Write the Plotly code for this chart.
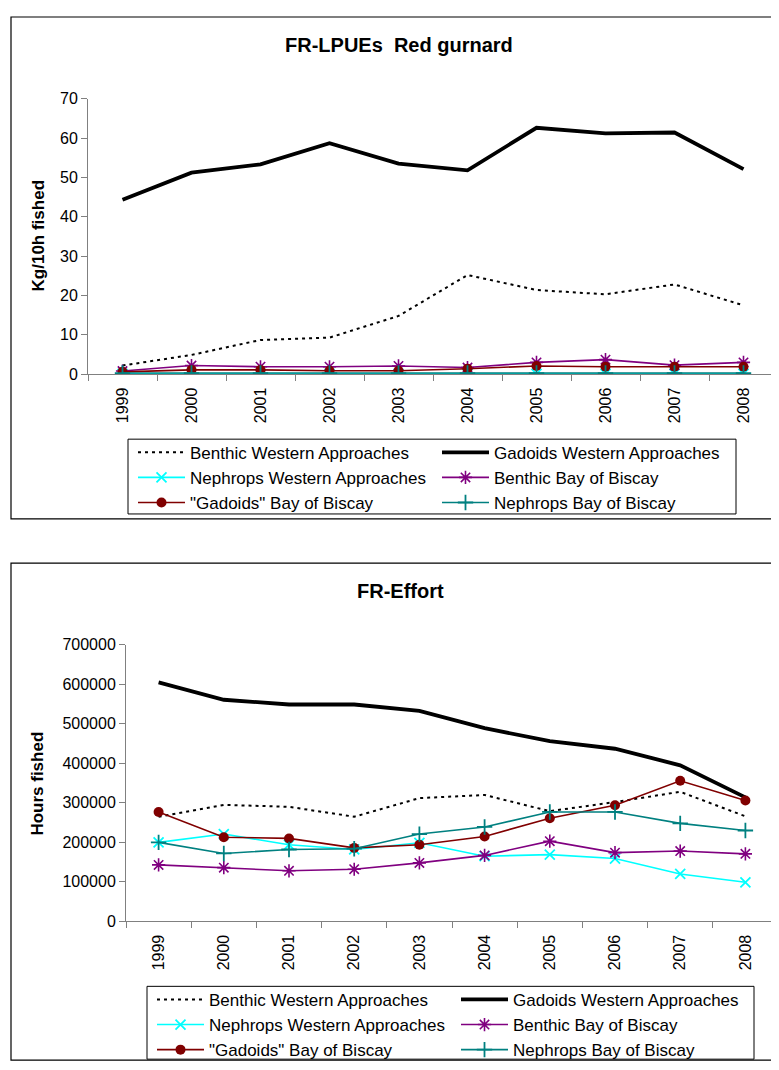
import plotly.graph_objects as go

# ---------------- data ----------------
years = ["1999", "2000", "2001", "2002", "2003", "2004", "2005", "2006", "2007", "2008"]

series_names = [
    "Benthic Western Approaches",
    "Gadoids Western Approaches",
    "Nephrops Western Approaches",
    "Benthic Bay of Biscay",
    "\"Gadoids\" Bay of Biscay",
    "Nephrops Bay of Biscay",
]

# LPUE (Kg/10h fished)
lpue_benthic_wa = [2.2, 4.9, 8.7, 9.3, 14.8, 25.2, 21.4, 20.3, 22.8, 17.5]
lpue_gadoids_wa = [44.3, 51.2, 53.3, 58.7, 53.5, 51.8, 62.6, 61.2, 61.4, 52.1]
lpue_nephrops_wa = [0.1, 0.1, 0.1, 0.1, 0.1, 0.1, 0.1, 0.1, 0.1, 0.1]
lpue_benthic_bob = [0.8, 2.2, 1.9, 1.9, 2.1, 1.7, 3.0, 3.7, 2.3, 3.0]
lpue_gadoids_bob = [0.6, 1.1, 1.1, 0.9, 0.9, 1.4, 2.1, 1.9, 1.9, 1.9]
lpue_nephrops_bob = [0.3, 0.3, 0.3, 0.3, 0.3, 0.3, 0.3, 0.3, 0.3, 0.3]

# Effort (hours fished)
eff_benthic_wa = [265000, 295000, 290000, 265000, 312000, 320000, 279000, 302000, 328000, 266000]
eff_gadoids_wa = [605000, 561000, 549000, 549000, 533000, 489000, 456000, 437000, 395000, 314000]
eff_nephrops_wa = [200000, 221000, 194000, 182000, 199000, 165000, 169000, 159000, 120000, 99000]
eff_benthic_bob = [143000, 136000, 128000, 132000, 148000, 167000, 203000, 174000, 178000, 171000]
eff_gadoids_bob = [277000, 213000, 210000, 186000, 194000, 215000, 261000, 294000, 356000, 306000]
eff_nephrops_bob = [200000, 172000, 182000, 184000, 221000, 239000, 277000, 277000, 248000, 230000]

lpue_series = [lpue_benthic_wa, lpue_gadoids_wa, lpue_nephrops_wa,
               lpue_benthic_bob, lpue_gadoids_bob, lpue_nephrops_bob]
eff_series = [eff_benthic_wa, eff_gadoids_wa, eff_nephrops_wa,
              eff_benthic_bob, eff_gadoids_bob, eff_nephrops_bob]

# ---------------- styles ----------------
styles = [
    dict(mode="lines", line=dict(color="black", width=2, dash="3px,4px")),
    dict(mode="lines", line=dict(color="black", width=3.8)),
    dict(mode="lines+markers", line=dict(color="#00FFFF", width=1.6),
         marker=dict(symbol="x-thin", size=10, color="#00FFFF",
                     line=dict(color="#00FFFF", width=1.8))),
    dict(mode="lines+markers", line=dict(color="#800080", width=1.6),
         marker=dict(symbol="asterisk", size=11, color="#800080",
                     line=dict(color="#800080", width=1.6))),
    dict(mode="lines+markers", line=dict(color="#800000", width=1.6),
         marker=dict(symbol="circle", size=10, color="#800000")),
    dict(mode="lines+markers", line=dict(color="#008080", width=1.6),
         marker=dict(symbol="cross-thin", size=11, color="#008080",
                     line=dict(color="#008080", width=1.8))),
]

W, H = 779, 1070
OFF = 8  # page body margin
FONT = "Liberation Sans, Arial, sans-serif"


def px_x(p):
    return (p - OFF) / W


def px_y(p):
    return 1 - (p - OFF) / H


fig = go.Figure()

for name, vals, st in zip(series_names, lpue_series, styles):
    fig.add_trace(go.Scatter(x=years, y=vals, name=name, xaxis="x", yaxis="y",
                             legend="legend", **st))
for name, vals, st in zip(series_names, eff_series, styles):
    fig.add_trace(go.Scatter(x=years, y=vals, name=name, xaxis="x2", yaxis="y2",
                             legend="legend2", **st))

axis_common = dict(
    showline=True, linecolor="#808080", linewidth=1,
    ticks="outside", ticklen=6, tickcolor="#808080", tickwidth=1,
    showgrid=False, zeroline=False,
    tickfont=dict(family=FONT, size=16, color="black"),
)

xaxis_common = dict(axis_common, type="category", range=[-0.5, 9.5],
                    tickson="boundaries", tickangle=-90, ticklabelstandoff=6)

legend_common = dict(
    orientation="h", bgcolor="rgba(0,0,0,0)", borderwidth=0,
    font=dict(family=FONT, size=17, color="black"),
    itemwidth=47, entrywidth=242, entrywidthmode="pixels",
    xanchor="left", yanchor="top", traceorder="normal",
    itemclick=False, itemdoubleclick=False,
)

fig.update_layout(
    width=W, height=H,
    margin=dict(l=0, r=0, t=0, b=0),
    paper_bgcolor="white", plot_bgcolor="white",
    font=dict(family=FONT, color="black"),
    xaxis=dict(xaxis_common, domain=[px_x(88), px_x(778)], anchor="y"),
    yaxis=dict(axis_common, domain=[px_y(372), px_y(92)], range=[0, 70], dtick=10,
               anchor="x"),
    xaxis2=dict(xaxis_common, domain=[px_x(126), px_x(778)], anchor="y2"),
    yaxis2=dict(axis_common, domain=[px_y(928), px_y(647)], range=[0, 700000],
                dtick=100000, tickformat="d", anchor="x2"),
    legend=dict(legend_common, x=px_x(133), y=px_y(433.5)),
    legend2=dict(legend_common, x=px_x(152), y=px_y(989.5)),
    showlegend=True,
)

# chart frames
for y0, y1 in [(9, 519), (564, 1069)]:
    fig.add_shape(type="rect", xref="paper", yref="paper",
                  x0=px_x(11), x1=px_x(800), y0=px_y(y1), y1=px_y(y0),
                  line=dict(color="black", width=1.2), fillcolor="rgba(0,0,0,0)",
                  layer="below")

# legend boxes
for x0, x1, y0, y1 in [(128, 736, 438, 514), (147, 754, 994, 1068)]:
    fig.add_shape(type="rect", xref="paper", yref="paper",
                  x0=px_x(x0), x1=px_x(x1), y0=px_y(y1), y1=px_y(y0),
                  line=dict(color="black", width=1), fillcolor="white",
                  layer="below")

ann_common = dict(xref="paper", yref="paper", showarrow=False,
                  xanchor="center", yanchor="middle")

# titles
fig.add_annotation(text="FR-LPUEs\u00a0\u00a0Red gurnard", x=px_x(399), y=px_y(37),
                   font=dict(family=FONT, size=20, color="black", weight="bold"),
                   **ann_common)
fig.add_annotation(text="FR-Effort", x=px_x(400), y=px_y(592),
                   font=dict(family=FONT, size=20, color="black", weight="bold"),
                   **ann_common)

# axis titles
fig.add_annotation(text="Kg/10h fished", x=px_x(38), y=px_y(232), textangle=-90,
                   font=dict(family=FONT, size=17, color="black", weight="bold"),
                   **ann_common)
fig.add_annotation(text="Hours fished", x=px_x(38), y=px_y(788), textangle=-90,
                   font=dict(family=FONT, size=17, color="black", weight="bold"),
                   **ann_common)

fig.write_html("out.html")
